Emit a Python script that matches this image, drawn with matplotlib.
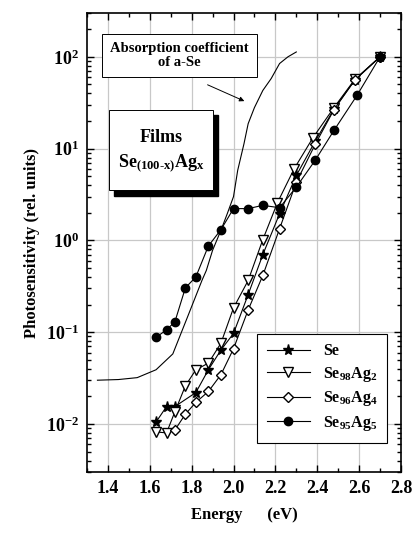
import matplotlib
matplotlib.use("Agg")
import matplotlib.pyplot as plt
from matplotlib.patches import Rectangle
from matplotlib.ticker import MultipleLocator, LogLocator, NullFormatter

plt.rcParams["font.family"] = ["Liberation Serif", "DejaVu Serif"]
plt.rcParams["font.weight"] = "bold"
plt.rcParams["mathtext.fontset"] = "custom"
plt.rcParams["mathtext.rm"] = "Liberation Serif:bold"
plt.rcParams["mathtext.it"] = "Liberation Serif:bold"
plt.rcParams["mathtext.bf"] = "Liberation Serif:bold"

# photosensitivity spectra, Se(100-x)Ag(x) films
se_e = [1.63, 1.68, 1.72, 1.82, 1.88, 1.94, 2.00, 2.07, 2.14, 2.22, 2.30, 2.39, 2.48, 2.58, 2.70]
se_s = [0.0105, 0.0155, 0.0155, 0.022, 0.039, 0.064, 0.097, 0.257, 0.70, 1.95, 5.1, 12.0, 27.0, 56.0, 100.0]

ag2_e = [1.63, 1.68, 1.72, 1.77, 1.82, 1.88, 1.94, 2.00, 2.07, 2.14, 2.21, 2.29, 2.38, 2.48, 2.58, 2.70]
ag2_s = [0.0082, 0.0080, 0.0136, 0.026, 0.039, 0.046, 0.076, 0.184, 0.366, 1.02, 2.58, 6.05, 13.2, 28.0, 57.0, 100.0]

ag4_e = [1.72, 1.77, 1.82, 1.88, 1.94, 2.00, 2.07, 2.14, 2.22, 2.30, 2.39, 2.48, 2.58, 2.70]
ag4_s = [0.0086, 0.0128, 0.0172, 0.0226, 0.0345, 0.066, 0.175, 0.415, 1.34, 4.3, 11.1, 26.6, 56.0, 100.0]

ag5_e = [1.63, 1.68, 1.72, 1.77, 1.82, 1.88, 1.94, 2.00, 2.07, 2.14, 2.22, 2.30, 2.39, 2.48, 2.59, 2.70]
ag5_s = [0.088, 0.106, 0.130, 0.304, 0.40, 0.87, 1.31, 2.22, 2.22, 2.41, 2.27, 3.81, 7.45, 15.8, 38.0, 100.0]

# absorption coefficient of a-Se (rel.)
abs_e = [1.35, 1.45, 1.54, 1.63, 1.71, 1.78, 1.85, 1.87, 1.90, 1.94, 1.97, 2.00,
         2.02, 2.05, 2.07, 2.10, 2.14, 2.18, 2.22, 2.26, 2.30]
abs_s = [0.030, 0.0305, 0.032, 0.039, 0.058, 0.146, 0.37, 0.47, 0.78, 1.29, 1.95, 3.0,
         5.8, 11.3, 18.7, 28.0, 43.0, 58.0, 84.5, 100.0, 113.0]

fig = plt.figure(figsize=(4.15, 5.36), dpi=100)
ax = fig.add_axes([0.2096, 0.1194, 0.7566, 0.8563])

ax.plot(abs_e, abs_s, color="black", lw=0.8)
ax.plot(se_e, se_s, "-*", color="black", lw=0.8, ms=8, label="Se")
ax.plot(ag2_e, ag2_s, "-v", color="black", mfc="white", lw=0.8, ms=7,
        label="Se$_{98}$Ag$_{2}$")
ax.plot(ag4_e, ag4_s, "-D", color="black", mfc="white", lw=0.8, ms=5.5,
        label="Se$_{96}$Ag$_{4}$")
ax.plot(ag5_e, ag5_s, "-o", color="black", lw=0.8, ms=6,
        label="Se$_{95}$Ag$_{5}$")

ax.set_yscale("log")
ax.set_xlim(1.30, 2.80)
ax.set_ylim(0.003, 300)
ax.xaxis.set_major_locator(MultipleLocator(0.2))
ax.xaxis.set_minor_locator(MultipleLocator(0.1))
ax.yaxis.set_major_locator(LogLocator(base=10, numticks=10))
ax.yaxis.set_minor_locator(LogLocator(base=10, subs=range(2, 10), numticks=10))
ax.yaxis.set_minor_formatter(NullFormatter())
ax.grid(True, which="major", color="#c8c8c8", lw=0.9)
ax.set_axisbelow(True)
ax.tick_params(which="both", direction="in", top=True, right=True, width=1)
ax.tick_params(which="major", length=5, labelsize=13, pad=6)
ax.tick_params(which="minor", length=3)
for s in ax.spines.values():
    s.set_linewidth(1.2)

ax.set_xlabel("Energy      (eV)", fontsize=12, fontweight="bold", labelpad=7)
ax.set_ylabel("Photosensitivity (rel. units)", fontsize=12, fontweight="bold")

leg = ax.legend(loc="lower right", bbox_to_anchor=(0.956, 0.064), fontsize=11.5,
                handlelength=2.7, fancybox=False, framealpha=1,
                edgecolor="black", borderpad=0.6, labelspacing=0.35,
                borderaxespad=0)
leg.get_frame().set_linewidth(0.8)

# annotation box with arrow to the absorption curve
ax.annotate("", xy=(2.064, 32), xytext=(1.864, 51),
            arrowprops=dict(arrowstyle="-|>", color="black", lw=0.7,
                            mutation_scale=7))
ax.text(0.294, 0.907, "Absorption coefficient\nof a-Se", transform=ax.transAxes,
        fontsize=10.5, fontweight="bold", ha="center", va="center",
        linespacing=1.15, multialignment="center",
        bbox=dict(boxstyle="square,pad=0.55", fc="white", ec="black", lw=0.7))

# "Films" box with drop shadow
bx, by, bw, bh = 0.071, 0.614, 0.331, 0.175
ax.add_patch(Rectangle((bx + 0.016, by - 0.012), bw, bh, transform=ax.transAxes,
                       fc="black", ec="black", zorder=4))
ax.add_patch(Rectangle((bx, by), bw, bh, transform=ax.transAxes,
                       fc="white", ec="black", lw=0.7, zorder=5))
ax.text(bx + bw / 2, by + bh * 0.66, "Films", transform=ax.transAxes,
        fontsize=13, fontweight="bold", ha="center", va="center", zorder=6)
ax.text(bx + bw / 2, by + bh * 0.34, "Se$_{(100\\text{-}x)}$Ag$_{x}$",
        transform=ax.transAxes, fontsize=13, fontweight="bold",
        ha="center", va="center", zorder=6)

fig.savefig("out.png", dpi=100)
